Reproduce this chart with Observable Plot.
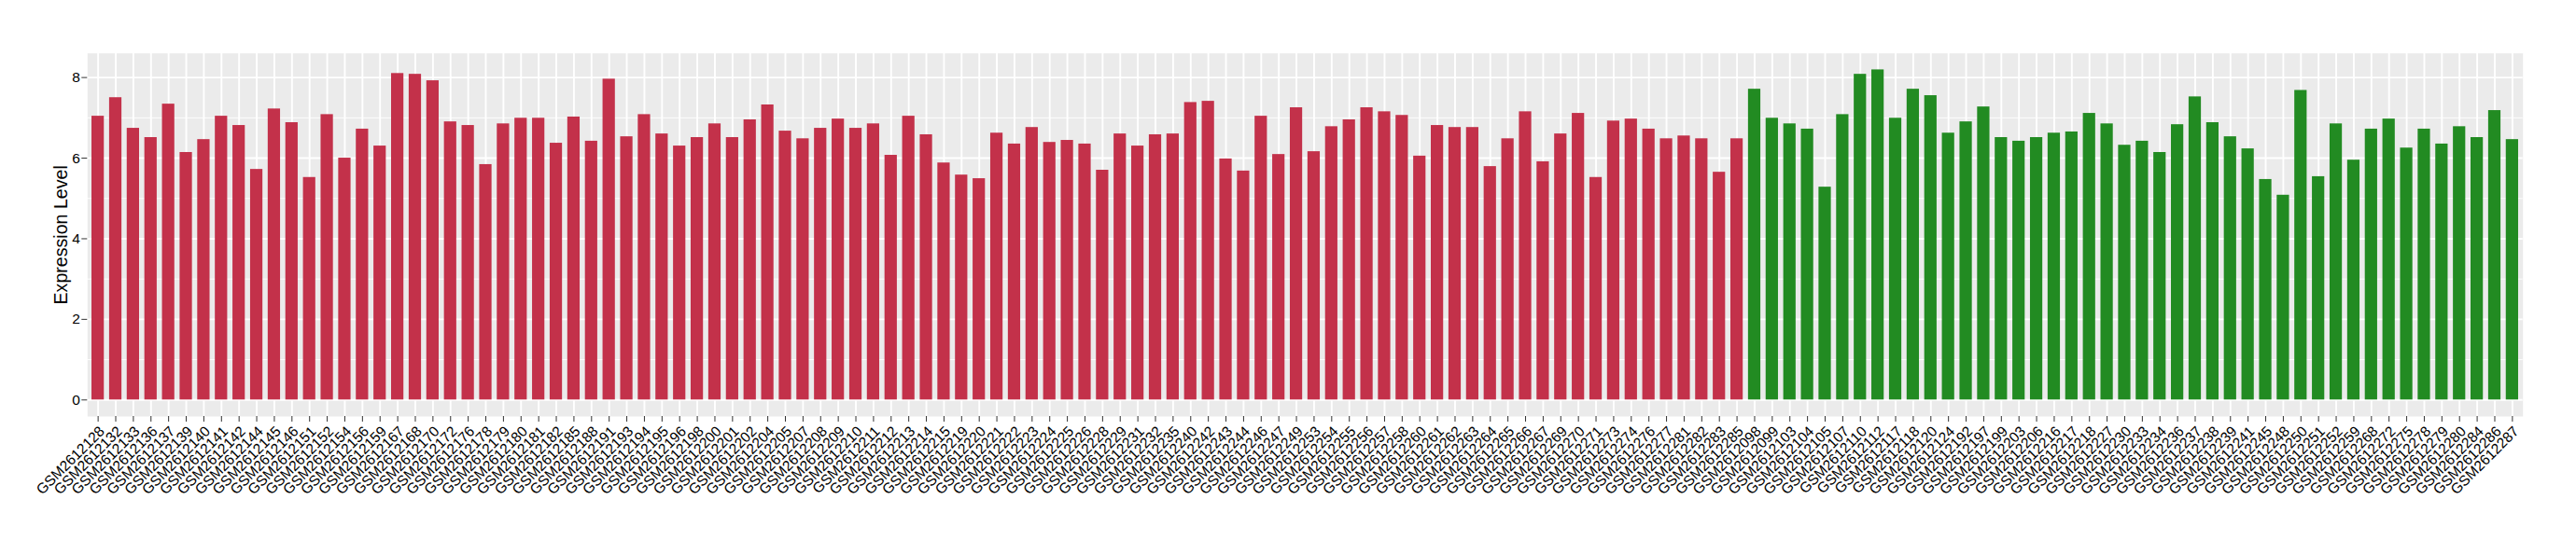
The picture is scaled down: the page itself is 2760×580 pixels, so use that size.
<!DOCTYPE html>
<html><head><meta charset="utf-8">
<script src="https://cdn.jsdelivr.net/npm/d3@7"></script>
<script src="https://cdn.jsdelivr.net/npm/@observablehq/plot@0.6"></script>
<style>body{margin:0;background:#fff}</style>
</head><body><div id="chart"></div>
<script>
const groupASamples = ["GSM2612128","GSM2612132","GSM2612133","GSM2612136","GSM2612137","GSM2612139","GSM2612140","GSM2612141","GSM2612142","GSM2612144","GSM2612145","GSM2612146","GSM2612151","GSM2612152","GSM2612154","GSM2612156","GSM2612159","GSM2612167","GSM2612168","GSM2612170","GSM2612172","GSM2612176","GSM2612178","GSM2612179","GSM2612180","GSM2612181","GSM2612182","GSM2612185","GSM2612188","GSM2612191","GSM2612193","GSM2612194","GSM2612195","GSM2612196","GSM2612198","GSM2612200","GSM2612201","GSM2612202","GSM2612204","GSM2612205","GSM2612207","GSM2612208","GSM2612209","GSM2612210","GSM2612211","GSM2612212","GSM2612213","GSM2612214","GSM2612215","GSM2612219","GSM2612220","GSM2612221","GSM2612222","GSM2612223","GSM2612224","GSM2612225","GSM2612226","GSM2612228","GSM2612229","GSM2612231","GSM2612232","GSM2612235","GSM2612240","GSM2612242","GSM2612243","GSM2612244","GSM2612246","GSM2612247","GSM2612249","GSM2612253","GSM2612254","GSM2612255","GSM2612256","GSM2612257","GSM2612258","GSM2612260","GSM2612261","GSM2612262","GSM2612263","GSM2612264","GSM2612265","GSM2612266","GSM2612267","GSM2612269","GSM2612270","GSM2612271","GSM2612273","GSM2612274","GSM2612276","GSM2612277","GSM2612281","GSM2612282","GSM2612283","GSM2612285"];
const groupAValues = [7.04,7.50,6.74,6.51,7.34,6.14,6.46,7.04,6.81,5.72,7.22,6.88,5.52,7.08,6.00,6.72,6.30,8.10,8.08,7.92,6.90,6.81,5.84,6.85,6.99,6.99,6.37,7.02,6.42,7.96,6.53,7.08,6.60,6.30,6.51,6.85,6.51,6.95,7.32,6.67,6.48,6.74,6.97,6.74,6.85,6.07,7.04,6.58,5.88,5.58,5.49,6.62,6.35,6.76,6.39,6.44,6.35,5.70,6.60,6.30,6.58,6.60,7.38,7.41,5.98,5.68,7.04,6.09,7.25,6.16,6.78,6.95,7.25,7.15,7.06,6.05,6.81,6.76,6.76,5.79,6.48,7.15,5.91,6.60,7.11,5.52,6.92,6.97,6.72,6.48,6.55,6.48,5.65,6.48];
const groupBSamples = ["GSM2612098","GSM2612099","GSM2612103","GSM2612104","GSM2612105","GSM2612107","GSM2612110","GSM2612112","GSM2612117","GSM2612118","GSM2612120","GSM2612124","GSM2612192","GSM2612197","GSM2612199","GSM2612203","GSM2612206","GSM2612216","GSM2612217","GSM2612218","GSM2612227","GSM2612230","GSM2612233","GSM2612234","GSM2612236","GSM2612237","GSM2612238","GSM2612239","GSM2612241","GSM2612245","GSM2612248","GSM2612250","GSM2612251","GSM2612252","GSM2612259","GSM2612268","GSM2612272","GSM2612275","GSM2612278","GSM2612279","GSM2612280","GSM2612284","GSM2612286","GSM2612287"];
const groupBValues = [7.71,6.99,6.85,6.72,5.28,7.08,8.08,8.19,6.99,7.71,7.55,6.62,6.90,7.27,6.51,6.42,6.51,6.62,6.65,7.11,6.85,6.32,6.42,6.14,6.83,7.52,6.88,6.53,6.23,5.47,5.08,7.68,5.54,6.85,5.95,6.72,6.97,6.25,6.72,6.35,6.78,6.51,7.18,6.46];
const groupNames = ["Group A", "Group B"];
const yTicks = [0, 2, 4, 6, 8];
const yMinorTicks = [1, 3, 5, 7];
const yLabel = "Expression Level";

const data = [
  ...groupASamples.map((s, i) => ({sample: s, value: groupAValues[i], group: groupNames[0]})),
  ...groupBSamples.map((s, i) => ({sample: s, value: groupBValues[i], group: groupNames[1]}))
];
const samples = data.map(d => d.sample);

const font = "'Liberation Sans', Arial, Helvetica, sans-serif";
const chart = Plot.plot({
  width: 2760, height: 580,
  marginLeft: 93.3, marginRight: 57.3, marginTop: 56.7, marginBottom: 134,
  style: {fontFamily: font, fontSize: "15px", background: "white", color: "black"},
  x: {domain: samples, paddingInner: 0.3, paddingOuter: 0.25, axis: null},
  y: {domain: [-0.41, 8.6], axis: null},
  color: {domain: groupNames, range: ["#C3314A", "#228B22"]},
  marks: [
    Plot.frame({fill: "#EBEBEB", stroke: "none"}),
    Plot.ruleY(yMinorTicks, {stroke: "white", strokeWidth: 0.9}),
    Plot.ruleY(yTicks, {stroke: "white", strokeWidth: 1.9}),
    Plot.ruleX(samples, {stroke: "white", strokeWidth: 1.9}),
    Plot.barY(data, {x: "sample", y: "value", fill: "group"}),
    Plot.axisY(yTicks, {tickSize: 6, tickPadding: 2, stroke: "#333", fill: "black", fontSize: 15.5, label: null}),
    Plot.axisX({tickSize: 6, tickFormat: () => "", stroke: "#333", label: null}),
    Plot.text(samples, {x: d => d, frameAnchor: "bottom", dy: 9, rotate: -45, textAnchor: "end", lineAnchor: "top", fontSize: 15.5, fill: "black"}),
    Plot.text([yLabel], {frameAnchor: "left", dx: -28, rotate: -90, textAnchor: "middle", lineAnchor: "middle", fontSize: 19.6, fill: "black"})
  ]
});
document.getElementById("chart").appendChild(chart);
</script>
</body></html>
